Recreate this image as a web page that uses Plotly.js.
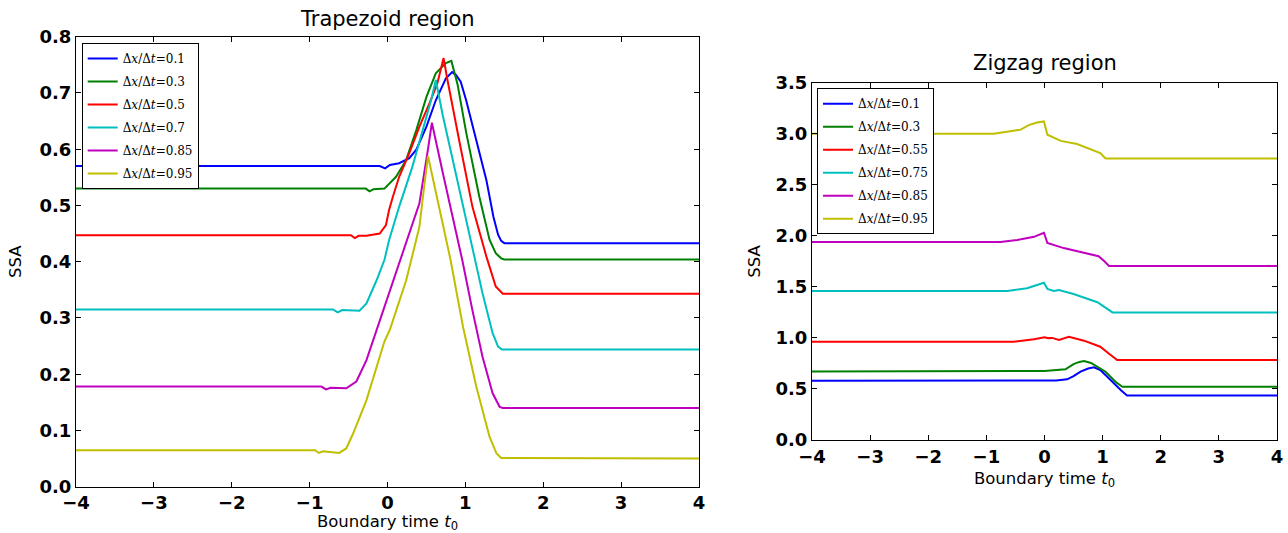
<!DOCTYPE html>
<html><head><meta charset="utf-8">
<script src="https://cdn.plot.ly/plotly-3.0.1.min.js"></script>
<style>html,body{margin:0;padding:0;background:#fff}#chart{width:1288px;height:533px}</style>
</head><body><div id="chart"></div>
<script>
// ---------- Trapezoid region (left) ----------
const trapLabels = ['0.1', '0.3', '0.5', '0.7', '0.85', '0.95'];

const trapT1 = [-4, -0.10, -0.03, 0.03, 0.15, 0.28, 0.37, 0.50, 0.62, 0.75, 0.83, 0.88, 0.94, 1.01, 1.14, 1.27, 1.36, 1.42, 1.46, 1.50, 4];
const trapV1 = [0.570, 0.570, 0.566, 0.572, 0.575, 0.584, 0.599, 0.640, 0.687, 0.726, 0.737, 0.732, 0.720, 0.687, 0.616, 0.545, 0.480, 0.448, 0.437, 0.433, 0.433];

const trapT2 = [-4, -0.28, -0.23, -0.18, -0.04, 0.03, 0.11, 0.24, 0.37, 0.50, 0.62, 0.75, 0.82, 0.90, 1.01, 1.18, 1.31, 1.39, 1.46, 1.50, 4];
const trapV2 = [0.530, 0.530, 0.525, 0.529, 0.530, 0.540, 0.551, 0.581, 0.634, 0.693, 0.735, 0.753, 0.757, 0.715, 0.630, 0.515, 0.439, 0.415, 0.406, 0.404, 0.404];

const trapT3 = [-4, -0.47, -0.42, -0.37, -0.27, -0.10, -0.02, 0.02, 0.07, 0.15, 0.28, 0.41, 0.54, 0.64, 0.72, 0.77, 0.92, 1.09, 1.27, 1.39, 1.48, 4];
const trapV3 = [0.447, 0.447, 0.442, 0.446, 0.446, 0.450, 0.465, 0.492, 0.516, 0.551, 0.593, 0.640, 0.682, 0.717, 0.762, 0.723, 0.616, 0.498, 0.409, 0.356, 0.343, 0.343];

const trapT4 = [-4, -0.70, -0.64, -0.58, -0.36, -0.27, -0.14, -0.04, 0.02, 0.15, 0.32, 0.45, 0.56, 0.62, 0.71, 0.88, 1.12, 1.22, 1.35, 1.42, 1.47, 4];
const trapV4 = [0.315, 0.315, 0.310, 0.314, 0.313, 0.326, 0.367, 0.403, 0.438, 0.498, 0.569, 0.634, 0.687, 0.723, 0.660, 0.555, 0.403, 0.344, 0.273, 0.249, 0.244, 0.244];

const trapT5 = [-4, -0.85, -0.79, -0.73, -0.53, -0.40, -0.27, -0.10, 0.07, 0.24, 0.41, 0.52, 0.57, 0.71, 0.96, 1.09, 1.22, 1.35, 1.44, 1.48, 4];
const trapV5 = [0.178, 0.178, 0.173, 0.176, 0.175, 0.187, 0.225, 0.294, 0.364, 0.434, 0.504, 0.600, 0.647, 0.558, 0.403, 0.314, 0.231, 0.166, 0.142, 0.140, 0.140];

const trapT6 = [-4, -0.93, -0.88, -0.83, -0.62, -0.53, -0.44, -0.27, -0.04, 0.03, 0.24, 0.41, 0.45, 0.52, 0.81, 0.97, 1.14, 1.31, 1.40, 1.46, 4];
const trapV6 = [0.065, 0.065, 0.060, 0.063, 0.060, 0.068, 0.095, 0.154, 0.258, 0.279, 0.367, 0.462, 0.510, 0.588, 0.403, 0.284, 0.178, 0.089, 0.059, 0.051, 0.050];

// ---------- Zigzag region (right) ----------
const zigLabels = ['0.1', '0.3', '0.55', '0.75', '0.85', '0.95'];

const zigT1 = [-4, -0.05, 0.0, 0.05, 0.20, 0.39, 0.50, 0.62, 0.75, 0.85, 0.96, 1.08, 1.19, 1.32, 1.42, 4];
const zigV1 = [0.580, 0.580, 0.585, 0.580, 0.583, 0.594, 0.625, 0.669, 0.700, 0.712, 0.686, 0.620, 0.555, 0.485, 0.437, 0.437];

const zigT2 = [-4, -1.00, 0.00, 0.36, 0.50, 0.60, 0.68, 0.80, 0.91, 1.05, 1.22, 1.34, 4];
const zigV2 = [0.670, 0.670, 0.676, 0.692, 0.744, 0.765, 0.774, 0.755, 0.718, 0.669, 0.571, 0.522, 0.522];

const zigT3 = [-4, -0.53, -0.18, 0.00, 0.07, 0.13, 0.25, 0.42, 0.68, 0.96, 1.10, 1.25, 4];
const zigV3 = [0.963, 0.963, 0.986, 1.006, 0.998, 1.000, 0.979, 1.012, 0.973, 0.914, 0.850, 0.784, 0.784];

const zigT4 = [-4, -0.64, -0.30, -0.01, 0.05, 0.16, 0.25, 0.50, 0.91, 1.05, 1.17, 4];
const zigV4 = [1.460, 1.460, 1.486, 1.540, 1.480, 1.460, 1.470, 1.430, 1.350, 1.300, 1.250, 1.250];

const zigT5 = [-4, -0.76, -0.47, -0.18, -0.01, 0.05, 0.33, 0.68, 0.93, 1.03, 1.11, 4];
const zigV5 = [1.940, 1.940, 1.960, 1.990, 2.030, 1.930, 1.880, 1.830, 1.800, 1.750, 1.705, 1.705];

const zigT6 = [-4, -0.87, -0.41, -0.27, -0.13, -0.01, 0.05, 0.28, 0.56, 0.85, 0.96, 1.05, 4];
const zigV6 = [3.000, 3.000, 3.040, 3.085, 3.110, 3.120, 2.990, 2.930, 2.900, 2.840, 2.810, 2.757, 2.757];

// ---------- styling ----------
const colors = ['#0000ff', '#008000', '#ff0000', '#00bfbf', '#bf00bf', '#bfbf00'];
const trapT = [trapT1, trapT2, trapT3, trapT4, trapT5, trapT6];
const trapV = [trapV1, trapV2, trapV3, trapV4, trapV5, trapV6];
const zigT = [zigT1, zigT2, zigT3, zigT4, zigT5, zigT6];
const zigV = [zigV1, zigV2, zigV3, zigV4, zigV5, zigV6];

function label(v) { return 'Δ<i>x</i>/Δ<i>t</i>=' + v; }

const traces = [];
for (let i = 0; i < 6; i++) {
  traces.push({x: trapT[i], y: trapV[i], type: 'scatter', mode: 'lines', name: label(trapLabels[i]),
    line: {color: colors[i], width: 2}, xaxis: 'x', yaxis: 'y', legend: 'legend', legendgroup: 'a' + i});
}
for (let i = 0; i < 6; i++) {
  traces.push({x: zigT[i], y: zigV[i], type: 'scatter', mode: 'lines', name: label(zigLabels[i]),
    line: {color: colors[i], width: 2}, xaxis: 'x2', yaxis: 'y2', legend: 'legend2', legendgroup: 'b' + i});
}

const W = 1288, H = 533;
function axis(domain, range, dtick, fmt, anchor, title, standoff) {
  return {domain: domain, range: range, dtick: dtick, tick0: 0, tickformat: fmt, anchor: anchor,
    showline: true, linecolor: '#000', linewidth: 1, mirror: 'ticks', ticks: 'inside', ticklen: 5,
    tickwidth: 1, tickcolor: '#000', showgrid: false, zeroline: false, automargin: false,
    tickfont: {family: 'DejaVu Sans', size: 18, weight: 'bold', color: '#000'},
    title: {text: title, font: {family: 'DejaVu Sans', size: 16.5, color: '#000'}, standoff: standoff}};
}
const xTitle = 'Boundary time <i>t</i><sub>0</sub>';
const legendBase = {xanchor: 'left', yanchor: 'top', bgcolor: '#fff', bordercolor: '#000', borderwidth: 1,
  font: {family: 'DejaVu Serif', size: 12, color: '#000'}, itemwidth: 30, tracegroupgap: 4};

const layout = {
  width: W, height: H, margin: {l: 0, r: 0, t: 0, b: 0}, paper_bgcolor: '#fff', plot_bgcolor: '#fff',
  showlegend: true,
  xaxis: axis([76 / W, 699 / W], [-4, 4], 1, 'd', 'y', xTitle, 6),
  yaxis: axis([1 - 486.7 / H, 1 - 36.7 / H], [0, 0.8], 0.1, '.1f', 'x', 'SSA', 13),
  xaxis2: axis([812 / W, 1277 / W], [-4, 4], 1, 'd', 'y2', xTitle, 6),
  yaxis2: axis([1 - 440 / H, 1 - 82.7 / H], [0, 3.5], 0.5, '.1f', 'x2', 'SSA', 10),
  legend: Object.assign({x: 81.7 / W, y: 1 - 43 / H}, legendBase),
  legend2: Object.assign({x: 817 / W, y: 1 - 88.3 / H}, legendBase),
  annotations: [
    {text: 'Trapezoid region', x: 387.5 / W, y: 1 - 19 / H, xref: 'paper', yref: 'paper', xanchor: 'center', yanchor: 'middle',
     showarrow: false, font: {family: 'DejaVu Sans', size: 21, color: '#000'}},
    {text: 'Zigzag region', x: 1044.5 / W, y: 1 - 63 / H, xref: 'paper', yref: 'paper', xanchor: 'center', yanchor: 'middle',
     showarrow: false, font: {family: 'DejaVu Sans', size: 21, color: '#000'}}
  ]
};

Plotly.newPlot('chart', traces, layout, {displayModeBar: false, staticPlot: true});
</script></body></html>
